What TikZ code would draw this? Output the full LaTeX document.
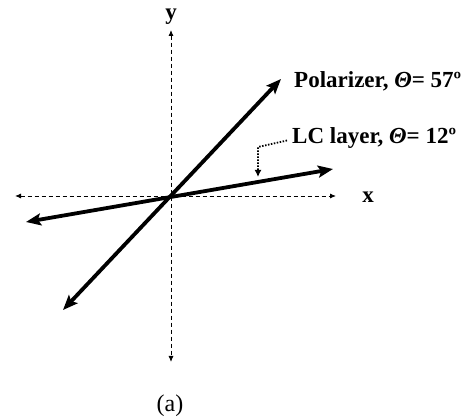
\documentclass[tikz,border=0pt]{standalone}
\usepackage{fontspec}
\setmainfont{Liberation Serif}
\usetikzlibrary{arrows.meta, positioning}

\begin{document}
\begin{tikzpicture}[
    x=1pt, y=-1pt,
    axis/.style={dash pattern=on 4pt off 3pt, line width=0.9pt, {Latex[length=6pt,width=5pt]}-{Latex[length=6pt,width=5pt]}},
    dirline/.style={line width=3.8pt, {Stealth[length=15pt,width=12pt,inset=3pt]}-{Stealth[length=15pt,width=12pt,inset=3pt]}},
    callout/.style={dash pattern=on 1.5pt off 1.5pt, line width=1.8pt, -{Latex[length=7pt,width=7pt]}},
    lbl/.style={font=\bfseries\fontsize{23}{25}\selectfont, inner sep=0pt}
]
\useasboundingbox (0,0) rectangle (466,419);

% Points
\coordinate (o) at (171,196);
\coordinate (xl) at (15,196);
\coordinate (xr) at (336,196);
\coordinate (yt) at (171,30);
\coordinate (yb) at (171,362);
\coordinate (pol1) at (63,310);
\coordinate (pol2) at (281,79);
\coordinate (lc1) at (26,222);
\coordinate (lc2) at (333,169);
\coordinate (bend) at (258,147);
\coordinate (lctip) at (258,177);

% Labels
\node (xlabel) [lbl] at (368,197) {x};
\node (ylabel) [lbl] at (171,17) {y};
\node (pollabel) [lbl, anchor=base west] at (294,88) {Polarizer, \textit{Θ}= 57º};
\node (lclabel) [lbl, anchor=base west] at (292,144) {LC layer, \textit{Θ}= 12º};
\node (caption) [font=\fontsize{24}{26}\selectfont, inner sep=0pt] at (170,406) {(a)};

% Axes
\draw[axis] (xl) -- (xr);
\draw[axis] (yt) -- (yb);

% Directions
\draw[dirline] (pol1) -- (pol2);
\draw[dirline] (lc1) -- (lc2);

% Callout
\draw[callout] ([xshift=-5pt,yshift=-2pt]lclabel.west) -- (bend) -- (lctip);

\end{tikzpicture}
\end{document}
